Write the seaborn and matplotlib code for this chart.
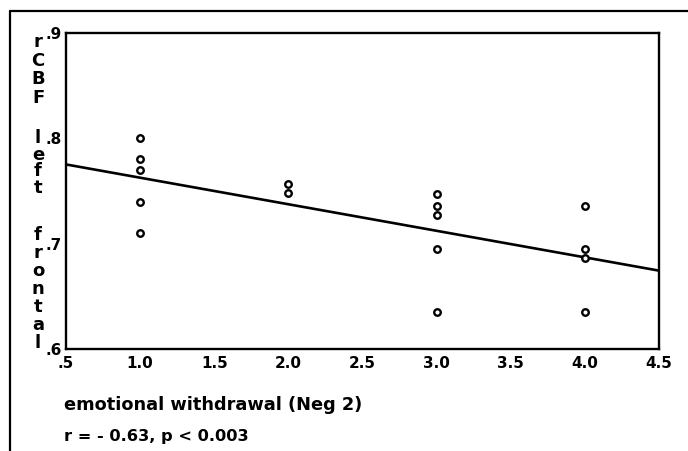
import matplotlib
matplotlib.use("Agg")
import matplotlib.pyplot as plt
import seaborn as sns
import pandas as pd
import numpy as np
from matplotlib.lines import Line2D

# Data
x_vals = [1, 1, 1, 1, 1, 2, 2, 3, 3, 3, 3, 3, 4, 4, 4, 4]
y_vals = [0.80, 0.78, 0.77, 0.74, 0.71,
          0.757, 0.748,
          0.747, 0.736, 0.727, 0.695, 0.635,
          0.736, 0.695, 0.686, 0.635]
x_ticks = [0.5, 1.0, 1.5, 2.0, 2.5, 3.0, 3.5, 4.0, 4.5]
x_tick_labels = [".5", "1.0", "1.5", "2.0", "2.5", "3.0", "3.5", "4.0", "4.5"]
y_ticks = [0.6, 0.7, 0.8, 0.9]
y_tick_labels = [".6", ".7", ".8", ".9"]
x_label = "emotional withdrawal (Neg 2)"
stat_text = "r = - 0.63, p < 0.003"
y_label_words = ["rCBF", "left", "frontal"]

df = pd.DataFrame({"x": x_vals, "y": y_vals})

sns.set_style("white")
plt.rcParams["font.family"] = ["DejaVu Sans"]
plt.rcParams["text.color"] = "black"
plt.rcParams["xtick.color"] = "black"
plt.rcParams["ytick.color"] = "black"

W, H = 688, 451
fig = plt.figure(figsize=(W / 100, H / 100), dpi=100)
ax = fig.add_axes([66 / W, 1 - 349 / H, (659 - 66) / W, (349 - 33) / H])
ax.set_xlim(0.5, 4.5)
ax.set_ylim(0.6, 0.9)

sns.regplot(data=df, x="x", y="y", ax=ax, ci=None, truncate=False,
            scatter_kws=dict(s=22, facecolors="white", edgecolors="black", linewidths=1.7,
                             alpha=1, zorder=3),
            line_kws=dict(color="black", lw=1.9, zorder=2),
            color="black")

ax.set_xticks(x_ticks)
ax.set_xticklabels(x_tick_labels, fontsize=11, fontweight="bold")
ax.set_yticks(y_ticks)
ax.set_yticklabels(y_tick_labels, fontsize=11, fontweight="bold")
ax.tick_params(axis="both", direction="out", length=3, width=2, color="black", pad=2)
ax.tick_params(axis="y", pad=0)
ax.set_xlabel("")
ax.set_ylabel("")
for sp in ax.spines.values():
    sp.set_visible(True)
    sp.set_color("black")
    sp.set_linewidth(1.7)

# vertical stacked y label, one text block per word
word_centers = {"rCBF": 70, "left": 163, "frontal": 289}
word_spacing = {"rCBF": 1.03, "left": 0.92, "frontal": 1.0}
for word in y_label_words:
    fig.text(38 / W, 1 - word_centers[word] / H, "\n".join(word), ha="center", va="center",
             multialignment="center", linespacing=word_spacing[word],
             fontsize=13, fontweight="bold", color="black")

fig.text(64 / W, 1 - 405 / H, x_label, ha="left", va="center", fontsize=12.8,
         fontweight="semibold", color="black")
fig.text(64 / W, 1 - 437 / H, stat_text, ha="left", va="center", fontsize=11.7,
         fontweight="bold", color="black")

# outer frame (top and left)
fig.add_artist(Line2D([10 / W, 1.0], [1 - 11 / H, 1 - 11 / H], transform=fig.transFigure, color="black", lw=1.6))
fig.add_artist(Line2D([10 / W, 10 / W], [0, 1 - 11 / H], transform=fig.transFigure, color="black", lw=1.6))

fig.savefig("out.png", dpi=100, facecolor="white")
